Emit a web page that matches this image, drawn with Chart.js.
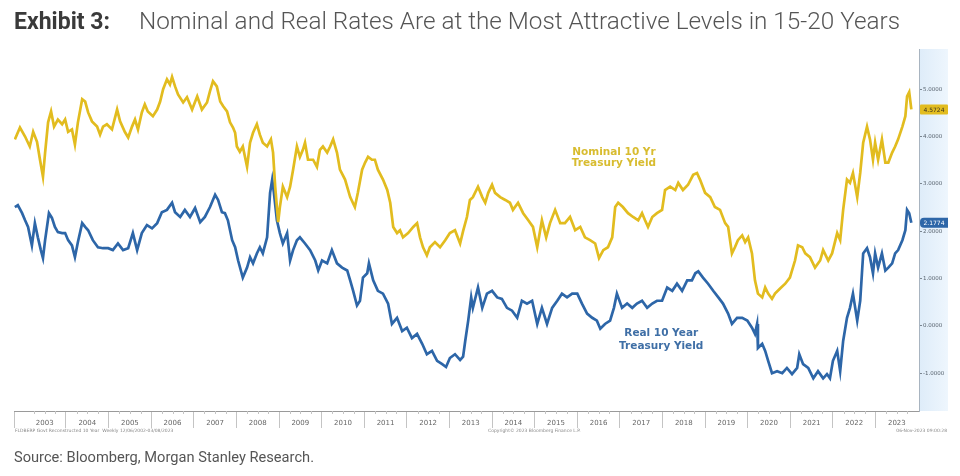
<!DOCTYPE html>
<html><head><meta charset="utf-8">
<script src="https://cdn.jsdelivr.net/npm/chart.js@4/dist/chart.umd.min.js"></script>
<style>
html,body{margin:0;padding:0;background:#fff;width:960px;height:476px;overflow:hidden;font-family:Roboto,sans-serif}
#wrap{position:relative;width:960px;height:476px}
canvas{position:absolute;left:0;top:0}
.t{position:absolute;white-space:nowrap;transform-origin:0 0;line-height:normal}
</style></head><body>
<div id="wrap">
<canvas id="c" width="960" height="476"></canvas>
<div class="t" style="left:14px;top:8px;font-size:23px;font-weight:700;color:#3a3a3a" data-w="96">Exhibit 3:</div>
<div class="t" style="left:139px;top:8px;font-size:23px;font-weight:300;color:#555" data-w="761">Nominal and Real Rates Are at the Most Attractive Levels in 15-20 Years</div>
<div class="t" style="left:14px;top:449px;font-size:14px;font-weight:400;color:#555" data-w="300">Source: Bloomberg, Morgan Stanley Research.</div>
</div>
<script>
// ---- DATA (decimal years / yield %) ----
const nominalDates = [2002.80,2002.92,2003.04,2003.15,2003.23,2003.32,2003.39,2003.46,2003.51,2003.58,2003.65,2003.72,2003.81,2003.91,2003.98,
2004.05,2004.14,2004.21,2004.28,2004.38,2004.45,2004.52,2004.61,2004.73,2004.80,2004.87,2004.96,
2005.08,2005.20,2005.27,2005.38,2005.46,2005.55,2005.62,2005.69,2005.78,2005.85,2005.92,
2006.04,2006.14,2006.21,2006.28,2006.37,2006.44,2006.49,2006.56,2006.63,2006.75,2006.84,2006.96,
2007.08,2007.19,2007.31,2007.38,2007.45,2007.54,2007.62,2007.69,2007.78,2007.85,2007.92,2007.97,
2008.01,2008.08,2008.15,2008.25,2008.32,2008.39,2008.48,2008.55,2008.62,2008.72,2008.81,2008.86,2008.91,2008.95,2008.98,
2009.02,2009.09,2009.19,2009.26,2009.33,2009.42,2009.49,2009.56,2009.61,2009.68,2009.80,2009.89,2009.96,
2010.03,2010.13,2010.20,2010.27,2010.36,2010.43,2010.55,2010.67,2010.78,2010.85,2010.95,
2011.02,2011.09,2011.18,2011.25,2011.32,2011.44,2011.54,2011.61,2011.68,2011.77,2011.84,2011.91,
2012.03,2012.15,2012.24,2012.31,2012.38,2012.47,2012.54,2012.66,2012.78,2012.90,
2013.01,2013.13,2013.25,2013.32,2013.41,2013.48,2013.55,2013.67,2013.77,2013.84,2013.91,
2014.00,2014.07,2014.19,2014.31,2014.42,2014.49,2014.61,2014.73,2014.85,2014.96,
2015.06,2015.17,2015.27,2015.36,2015.48,2015.60,2015.71,2015.83,2015.95,
2016.07,2016.18,2016.30,2016.42,2016.51,2016.61,2016.72,2016.82,2016.89,2016.96,
2017.07,2017.19,2017.31,2017.43,2017.52,2017.59,2017.66,2017.76,2017.87,2017.99,
2018.06,2018.18,2018.30,2018.37,2018.48,2018.60,2018.72,2018.81,2018.88,
2019.00,2019.12,2019.23,2019.35,2019.47,2019.54,2019.63,2019.70,2019.77,2019.87,2019.94,
2020.01,2020.10,2020.17,2020.24,2020.34,2020.41,2020.48,2020.57,2020.64,2020.76,2020.88,2020.99,
2021.11,2021.18,2021.28,2021.35,2021.46,2021.58,2021.70,2021.77,2021.89,2021.98,
2022.10,2022.17,2022.24,2022.33,2022.40,2022.47,2022.57,2022.64,2022.71,2022.80,2022.87,2022.94,2022.99,
2023.06,2023.15,2023.23,2023.30,2023.39,2023.46,2023.53,2023.63,2023.70,2023.74,2023.79,2023.84];
const nominalValues = [3.94,4.19,4.00,3.79,4.10,3.89,3.51,3.15,3.66,4.30,4.53,4.21,4.36,4.26,4.36,
4.10,4.15,3.83,4.30,4.79,4.74,4.51,4.32,4.21,4.04,4.21,4.26,
4.15,4.57,4.32,4.10,3.98,4.21,4.36,4.15,4.51,4.68,4.53,
4.43,4.57,4.74,5.00,5.21,5.10,5.26,5.06,4.89,4.72,4.83,4.57,
4.85,4.57,4.72,4.96,5.17,5.06,4.74,4.64,4.53,4.30,4.19,4.08,
3.79,3.68,3.79,3.36,3.87,4.08,4.26,4.04,3.87,3.79,3.94,3.66,2.94,2.51,2.19,
2.51,2.94,2.72,2.94,3.30,3.79,3.57,3.72,3.87,3.51,3.51,3.36,3.72,
3.79,3.66,3.79,3.94,3.66,3.30,3.09,2.72,2.51,2.81,3.30,
3.45,3.57,3.51,3.51,3.30,3.09,2.87,2.60,2.09,1.96,2.02,1.87,
1.96,2.09,2.17,1.87,1.66,1.49,1.66,1.77,1.66,1.81,
1.96,2.02,1.74,2.00,2.30,2.66,2.72,2.94,2.72,2.60,2.81,
2.98,2.81,2.72,2.66,2.60,2.45,2.60,2.38,2.23,2.09,
1.66,2.23,1.87,2.17,2.45,2.17,2.17,2.30,2.02,
2.09,1.87,1.81,1.74,1.43,1.60,1.66,1.87,2.51,2.60,
2.51,2.38,2.30,2.23,2.38,2.23,2.09,2.30,2.38,2.45,
2.87,2.94,2.87,3.02,2.87,2.98,3.19,3.23,3.09,
2.81,2.72,2.51,2.45,2.17,2.09,1.53,1.66,1.81,1.91,1.77,
1.87,1.53,0.96,0.68,0.60,0.81,0.68,0.57,0.68,0.79,0.89,1.02,
1.38,1.70,1.66,1.53,1.45,1.23,1.38,1.60,1.38,1.53,
1.96,1.81,2.45,3.09,3.02,3.23,2.72,3.23,3.87,4.21,3.94,3.51,3.87,
3.51,3.94,3.45,3.45,3.66,3.79,3.94,4.21,4.43,4.85,4.94,4.5724];

const realDates = [2002.80,2002.87,2002.97,2003.04,2003.11,2003.20,2003.27,2003.34,2003.41,2003.46,2003.51,2003.60,2003.67,2003.74,2003.81,2003.91,2003.98,
2004.05,2004.14,2004.21,2004.28,2004.38,2004.45,2004.52,2004.63,2004.75,2004.87,2004.99,
2005.10,2005.22,2005.34,2005.46,2005.57,2005.67,2005.78,2005.90,
2006.02,2006.14,2006.25,2006.37,2006.49,2006.56,2006.68,2006.79,2006.91,
2007.03,2007.15,2007.26,2007.38,2007.50,2007.57,2007.66,2007.73,2007.80,2007.90,2007.97,
2008.04,2008.15,2008.25,2008.32,2008.39,2008.48,2008.55,2008.62,2008.72,2008.79,2008.84,2008.88,2008.95,
2009.02,2009.09,2009.19,2009.26,2009.33,2009.42,2009.49,2009.61,2009.73,2009.85,2009.92,
2010.01,2010.13,2010.24,2010.36,2010.48,2010.60,2010.67,2010.74,2010.83,2010.90,2010.97,
2011.07,2011.11,2011.21,2011.32,2011.44,2011.56,2011.65,2011.77,2011.89,
2012.00,2012.12,2012.24,2012.36,2012.47,2012.59,2012.71,2012.83,2012.92,
2013.01,2013.13,2013.25,2013.32,2013.37,2013.44,2013.51,2013.55,2013.67,2013.77,2013.88,
2014.00,2014.12,2014.23,2014.35,2014.47,2014.59,2014.70,2014.82,2014.94,
2015.06,2015.17,2015.29,2015.41,2015.53,2015.64,2015.76,2015.88,
2016.00,2016.11,2016.23,2016.35,2016.46,2016.54,2016.65,2016.77,2016.86,2016.93,
2017.05,2017.17,2017.29,2017.40,2017.52,2017.64,2017.76,2017.87,2017.99,
2018.11,2018.23,2018.34,2018.46,2018.58,2018.69,2018.77,2018.84,2018.95,
2019.07,2019.19,2019.31,2019.42,2019.54,2019.63,2019.75,2019.87,2019.99,
2020.10,2020.17,2020.22,2020.24,2020.34,2020.41,2020.48,2020.57,2020.69,2020.81,2020.92,
2021.04,2021.16,2021.21,2021.30,2021.42,2021.54,2021.65,2021.77,2021.86,2021.93,
2022.00,2022.10,2022.17,2022.24,2022.33,2022.40,2022.47,2022.57,2022.64,2022.71,2022.80,2022.87,2022.94,2022.99,
2023.06,2023.15,2023.23,2023.30,2023.39,2023.46,2023.53,2023.63,2023.70,2023.74,2023.79,2023.84];
const realValues = [2.51,2.55,2.38,2.23,2.09,1.70,2.17,1.87,1.60,1.43,1.81,2.38,2.28,2.09,1.98,1.96,1.96,
1.81,1.70,1.45,1.77,2.17,2.09,2.02,1.81,1.66,1.64,1.64,
1.60,1.74,1.60,1.64,1.96,1.60,1.96,2.13,
2.06,2.17,2.40,2.45,2.60,2.40,2.30,2.45,2.30,
2.49,2.19,2.30,2.51,2.77,2.66,2.40,2.38,2.23,1.81,1.66,
1.38,1.02,1.23,1.45,1.32,1.53,1.66,1.53,1.87,2.81,3.09,2.81,2.23,
1.96,1.74,1.96,1.38,1.60,1.81,1.87,1.74,1.60,1.38,1.17,
1.38,1.32,1.60,1.32,1.23,1.17,0.96,0.74,0.43,0.53,1.02,
1.11,1.32,0.96,0.74,0.68,0.47,0.04,0.17,-0.11,
-0.04,-0.26,-0.17,-0.38,-0.60,-0.53,-0.74,-0.81,-0.87,
-0.68,-0.60,-0.72,-0.65,-0.32,0.11,0.60,0.38,0.81,0.38,0.68,
0.74,0.60,0.57,0.38,0.32,0.17,0.53,0.47,0.53,
0.04,0.38,0.04,0.38,0.53,0.68,0.60,0.68,
0.68,0.47,0.26,0.17,0.11,-0.06,0.04,0.11,0.38,0.68,
0.38,0.47,0.38,0.47,0.53,0.38,0.47,0.53,0.53,
0.81,0.74,0.89,0.74,0.96,0.96,1.11,1.15,1.02,
0.89,0.74,0.60,0.47,0.26,0.04,0.17,0.17,0.11,
-0.04,-0.17,0.04,-0.47,-0.38,-0.53,-0.74,-1.00,-0.96,-1.00,-0.89,
-1.02,-0.89,-0.60,-0.81,-0.89,-1.11,-0.96,-1.11,-1.02,-1.11,
-0.74,-0.53,-0.96,-0.32,0.17,0.38,0.68,0.11,0.53,1.53,1.64,1.45,1.11,1.53,
1.23,1.53,1.17,1.23,1.32,1.53,1.60,1.81,2.02,2.45,2.38,2.1774];

const yearLabels = [2003,2004,2005,2006,2007,2008,2009,2010,2011,2012,2013,2014,2015,2016,2017,2018,2019,2020,2021,2022,2023];
const yTicks = [-1,0,1,2,3,4,5];
const seriesNames = ['Nominal 10 Yr Treasury Yield','Real 10 Year Treasury Yield'];
const footLeft = 'FLDBERP Govt Reconstructed 10 Year  Weekly 12/06/2002-03/08/2023';
const footMid = 'Copyright\u00A9 2023 Bloomberg Finance L.P.';
const footRight = '06-Nov-2023 09:00:28';

const YELLOW = '#E2BC1F';
const BLUE = '#2D66A8';

// scale HTML texts to their measured reference widths
document.querySelectorAll('.t').forEach(el=>{
  const w = el.getBoundingClientRect().width;
  el.style.transform = 'scaleX(' + (parseFloat(el.dataset.w)/w) + ')';
});

const panelPlugin = {
  id:'panel',
  beforeDraw(chart){
    const {ctx, chartArea:a} = chart;
    const g = ctx.createLinearGradient(a.right,0,a.right+29,0);
    g.addColorStop(0,'#deecf9'); g.addColorStop(1,'#eef6fd');
    ctx.save(); ctx.fillStyle = g;
    ctx.fillRect(a.right, a.top, 29, a.bottom - a.top);
    ctx.restore();
  },
  afterDraw(chart){
    const {ctx, chartArea:a, scales} = chart;
    ctx.save();
    // quarterly minor ticks on the x axis
    ctx.strokeStyle = '#c4c4c4'; ctx.lineWidth = 1;
    yearLabels.forEach(yr=>{
      [0.25,0.5,0.75].forEach(q=>{
        const px = Math.round(scales.x.getPixelForValue(yr+q))+0.5;
        if (px > a.left && px < a.right) {
          ctx.beginPath(); ctx.moveTo(px, a.bottom); ctx.lineTo(px, a.bottom+3); ctx.stroke();
        }
      });
    });
    // last-value boxes
    chart.data.datasets.forEach((ds,i)=>{
      const last = ds.data[ds.data.length-1].y;
      const y = scales.y.getPixelForValue(last);
      ctx.fillStyle = ds.borderColor;
      ctx.beginPath();
      if (ctx.roundRect) ctx.roundRect(a.right+1, y-5, 28, 10, i===1?[4,0,0,4]:1); else ctx.rect(a.right+1,y-5,28,10);
      ctx.fill();
      ctx.fillStyle = i===0 ? '#3a3320' : '#ffffff';
      ctx.font = '6px "DejaVu Sans", sans-serif';
      ctx.textAlign = 'center'; ctx.textBaseline = 'middle';
      ctx.fillText(last.toFixed(4), a.right+15, y+0.5);
    });
    // series labels
    const lab = [
      {lines:['Nominal 10 Yr','Treasury Yield'], x:2016.86, y:[3.67,3.43], color:'#D8BC30'},
      {lines:['Real 10 Year','Treasury Yield'], x:2017.97, y:[-0.16,-0.43], color:'#3F6FA6'}
    ];
    ctx.font = 'bold 10.5px "DejaVu Sans", sans-serif';
    ctx.textAlign = 'center'; ctx.textBaseline = 'middle';
    lab.forEach(l=>{
      ctx.fillStyle = l.color;
      l.lines.forEach((t,k)=>ctx.fillText(t, scales.x.getPixelForValue(l.x), scales.y.getPixelForValue(l.y[k])));
    });
    // footer small texts
    ctx.fillStyle = '#888';
    ctx.font = '4.5px "DejaVu Sans", sans-serif';
    ctx.textBaseline = 'middle';
    ctx.textAlign = 'left'; ctx.fillText(footLeft, 15, 431);
    ctx.fillText(footMid, 488, 431);
    ctx.textAlign = 'right'; ctx.fillText(footRight, 947, 431);
    ctx.restore();
  }
};

const chart = new Chart(document.getElementById('c'), {
  type:'line',
  data:{datasets:[
    {label:seriesNames[0], data:nominalDates.map((d,i)=>({x:d,y:nominalValues[i]})), borderColor:YELLOW, backgroundColor:YELLOW, borderWidth:2.7, pointRadius:0, tension:0},
    {label:seriesNames[1], data:realDates.map((d,i)=>({x:d,y:realValues[i]})), borderColor:BLUE, backgroundColor:BLUE, borderWidth:2.7, pointRadius:0, tension:0}
  ]},
  options:{
    responsive:false, animation:false, devicePixelRatio:1,
    layout:{padding:{left:14,right:12,top:49,bottom:47}},
    plugins:{legend:{display:false}, tooltip:{enabled:false}},
    scales:{
      x:{type:'linear', min:2002.78, max:2024.02, position:'bottom',
        afterBuildTicks(ax){
          const t=[{value:ax.min}];
          yearLabels.forEach(y=>{ if(y>2003) t.push({value:y}); t.push({value:y+0.5}); });
          ax.ticks=t;
        },
        afterFit(ax){ ax.height=18; },
        border:{color:'#9a9a9a', width:1},
        grid:{drawOnChartArea:false, tickLength:17, lineWidth:1,
          color:(c)=> (c.tick && Math.abs(c.tick.value % 1 - 0.5) < 1e-6) ? 'rgba(0,0,0,0)' : '#c4c4c4'},
        ticks:{autoSkip:false, maxRotation:0, padding:-9, color:'#666', font:{size:7, family:'"DejaVu Sans", sans-serif'},
          callback:(v)=> Math.abs(v % 1 - 0.5) < 1e-6 ? String(Math.floor(v)) : ''}
      },
      y:{position:'right', min:-1.8, max:5.85,
        afterBuildTicks(ax){ ax.ticks = yTicks.map(v=>({value:v})); },
        afterFit(ax){ ax.width=29; },
        border:{color:'#a8b4c0', width:1},
        grid:{drawOnChartArea:false, tickLength:3, color:'#7a8590'},
        ticks:{padding:1, color:'#5a6570', font:{size:5.5, family:'"DejaVu Sans", sans-serif'},
          callback:(v)=> v.toFixed(4)}
      }
    }
  },
  plugins:[panelPlugin]
});
</script>
</body></html>
